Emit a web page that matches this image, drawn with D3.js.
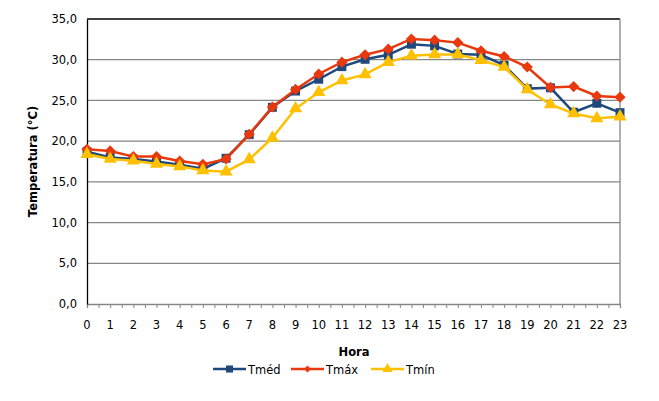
<!DOCTYPE html>
<html>
<head>
<meta charset="utf-8">
<script src="https://cdn.jsdelivr.net/npm/d3@7"></script>
<style>
  body { margin: 0; background: #fff; }
  text { font-family: "DejaVu Sans", sans-serif; }
</style>
</head>
<body>
<div id="chart"></div>
<script>
// hours of the day, one point per hour
var hours = d3.range(0, 24);
var tmed = [18.7, 18.0, 17.8, 17.5, 17.1, 16.6, 17.9, 20.8, 24.15, 26.15, 27.6, 29.15,
            30.05, 30.6, 31.9, 31.7, 30.7, 30.6, 29.35, 26.45, 26.55, 23.55, 24.65, 23.5];
var tmax = [19.0, 18.8, 18.1, 18.1, 17.55, 17.15, 17.8, 20.85, 24.2, 26.35, 28.25, 29.7,
            30.6, 31.3, 32.55, 32.4, 32.1, 31.1, 30.4, 29.1, 26.6, 26.7, 25.55, 25.4];
var tmin = [18.4, 17.8, 17.6, 17.2, 16.9, 16.4, 16.25, 17.75, 20.4, 24.0, 26.0, 27.45,
            28.2, 29.7, 30.5, 30.65, 30.65, 29.95, 29.1, 26.35, 24.5, 23.4, 22.8, 23.0];
var yTicks = [0, 5, 10, 15, 20, 25, 30, 35];

var series = [
  {name: "Tméd", values: tmed, color: "#1f497d", marker: "square"},
  {name: "Tmáx", values: tmax, color: "#e8380d", marker: "diamond"},
  {name: "Tmín", values: tmin, color: "#ffc000", marker: "triangle"}
];

var width = 659, height = 401;
var plotLeft = 87, plotRight = 620, plotTop = 19, plotBottom = 304;

var x = d3.scaleLinear().domain([0, 23]).range([plotLeft, plotRight]);
var y = d3.scaleLinear().domain([0, 35]).range([plotBottom, plotTop]);

var svg = d3.select("#chart").append("svg")
    .attr("width", width)
    .attr("height", height);

// gridlines
svg.append("g").selectAll("line")
    .data(yTicks.filter(function(d) { return d > 0 && d < 35; }))
    .enter().append("line")
    .attr("x1", plotLeft).attr("x2", plotRight)
    .attr("y1", function(d) { return y(d); })
    .attr("y2", function(d) { return y(d); })
    .attr("stroke", "#868686")
    .attr("stroke-width", 1.3);

// plot border: top and left black, right gray
svg.append("line").attr("x1", plotLeft).attr("x2", plotRight).attr("y1", plotTop).attr("y2", plotTop)
    .attr("stroke", "#000").attr("stroke-width", 1.3);
svg.append("line").attr("x1", plotRight).attr("x2", plotRight).attr("y1", plotTop).attr("y2", plotBottom)
    .attr("stroke", "#868686").attr("stroke-width", 1.3);

// x axis with ticks every half hour
var xAxis = svg.append("g")
    .attr("transform", "translate(0," + plotBottom + ")")
    .call(d3.axisBottom(x).tickValues(d3.range(0, 23.01, 0.5)).tickSize(4).tickFormat(""));
xAxis.select(".domain").attr("stroke", "#868686").attr("stroke-width", 1.3);
xAxis.selectAll(".tick line").attr("stroke", "#868686");

svg.append("g").selectAll("text")
    .data(hours)
    .enter().append("text")
    .attr("x", function(d) { return x(d); })
    .attr("y", plotBottom + 25)
    .attr("text-anchor", "middle")
    .attr("font-size", 11.5)
    .attr("fill", "#000")
    .text(function(d) { return d; });

// y axis
var yAxis = svg.append("g")
    .attr("transform", "translate(" + plotLeft + ",0)")
    .call(d3.axisLeft(y).tickValues(yTicks).tickSize(0).tickPadding(10)
      .tickFormat(function(d) { return d3.format(".1f")(d).replace(".", ","); }));
yAxis.select(".domain").attr("stroke", "#000").attr("stroke-width", 1.3);
yAxis.selectAll("text").attr("font-size", 11.5).attr("fill", "#000")
    .style("font-family", "DejaVu Sans, sans-serif");

// axis titles
svg.append("text")
    .attr("transform", "translate(37," + ((plotTop + plotBottom) / 2) + ") rotate(-90)")
    .attr("text-anchor", "middle")
    .attr("font-size", 11.5)
    .attr("font-weight", "bold")
    .text("Temperatura (°C)");

svg.append("text")
    .attr("x", 354)
    .attr("y", 356)
    .attr("text-anchor", "middle")
    .attr("font-size", 11.5)
    .attr("font-weight", "bold")
    .text("Hora");

// markers; the diamond is a square turned by 45 degrees
var symbols = {
  square: {path: d3.symbol().type(d3.symbolSquare).size(80)(), rot: 0},
  diamond: {path: d3.symbol().type(d3.symbolSquare).size(62)(), rot: 45},
  triangle: {path: d3.symbol().type(d3.symbolTriangle).size(75)(), rot: 0}
};

var line = d3.line()
    .x(function(d, i) { return x(hours[i]); })
    .y(function(d) { return y(d); });

series.forEach(function(s) {
  var g = svg.append("g");
  var sym = symbols[s.marker];
  g.append("path")
      .datum(s.values)
      .attr("d", line)
      .attr("fill", "none")
      .attr("stroke", s.color)
      .attr("stroke-width", 2.5);
  g.selectAll("path.pt")
      .data(s.values)
      .enter().append("path")
      .attr("class", "pt")
      .attr("d", sym.path)
      .attr("transform", function(d, i) {
        return "translate(" + x(hours[i]) + "," + y(d) + ") rotate(" + sym.rot + ")";
      })
      .attr("fill", s.color);
});

// legend
var legendX = [213, 291, 371];
var legendSymbols = {
  square: {path: d3.symbol().type(d3.symbolSquare).size(50)(), rot: 0},
  diamond: {path: d3.symbol().type(d3.symbolSquare).size(24)(), rot: 45},
  triangle: {path: d3.symbol().type(d3.symbolTriangle).size(45)(), rot: 0}
};
series.forEach(function(s, i) {
  var g = svg.append("g").attr("transform", "translate(" + legendX[i] + ",369)");
  var sym = legendSymbols[s.marker];
  g.append("line").attr("x1", 0).attr("x2", 33).attr("y1", 0).attr("y2", 0)
      .attr("stroke", s.color).attr("stroke-width", 2.5);
  g.append("path").attr("d", sym.path)
      .attr("transform", "translate(16.5,0) rotate(" + sym.rot + ")").attr("fill", s.color);
  g.append("text").attr("x", 35).attr("y", 4.5)
      .attr("font-size", 11.5).text(s.name);
});
</script>
</body>
</html>
